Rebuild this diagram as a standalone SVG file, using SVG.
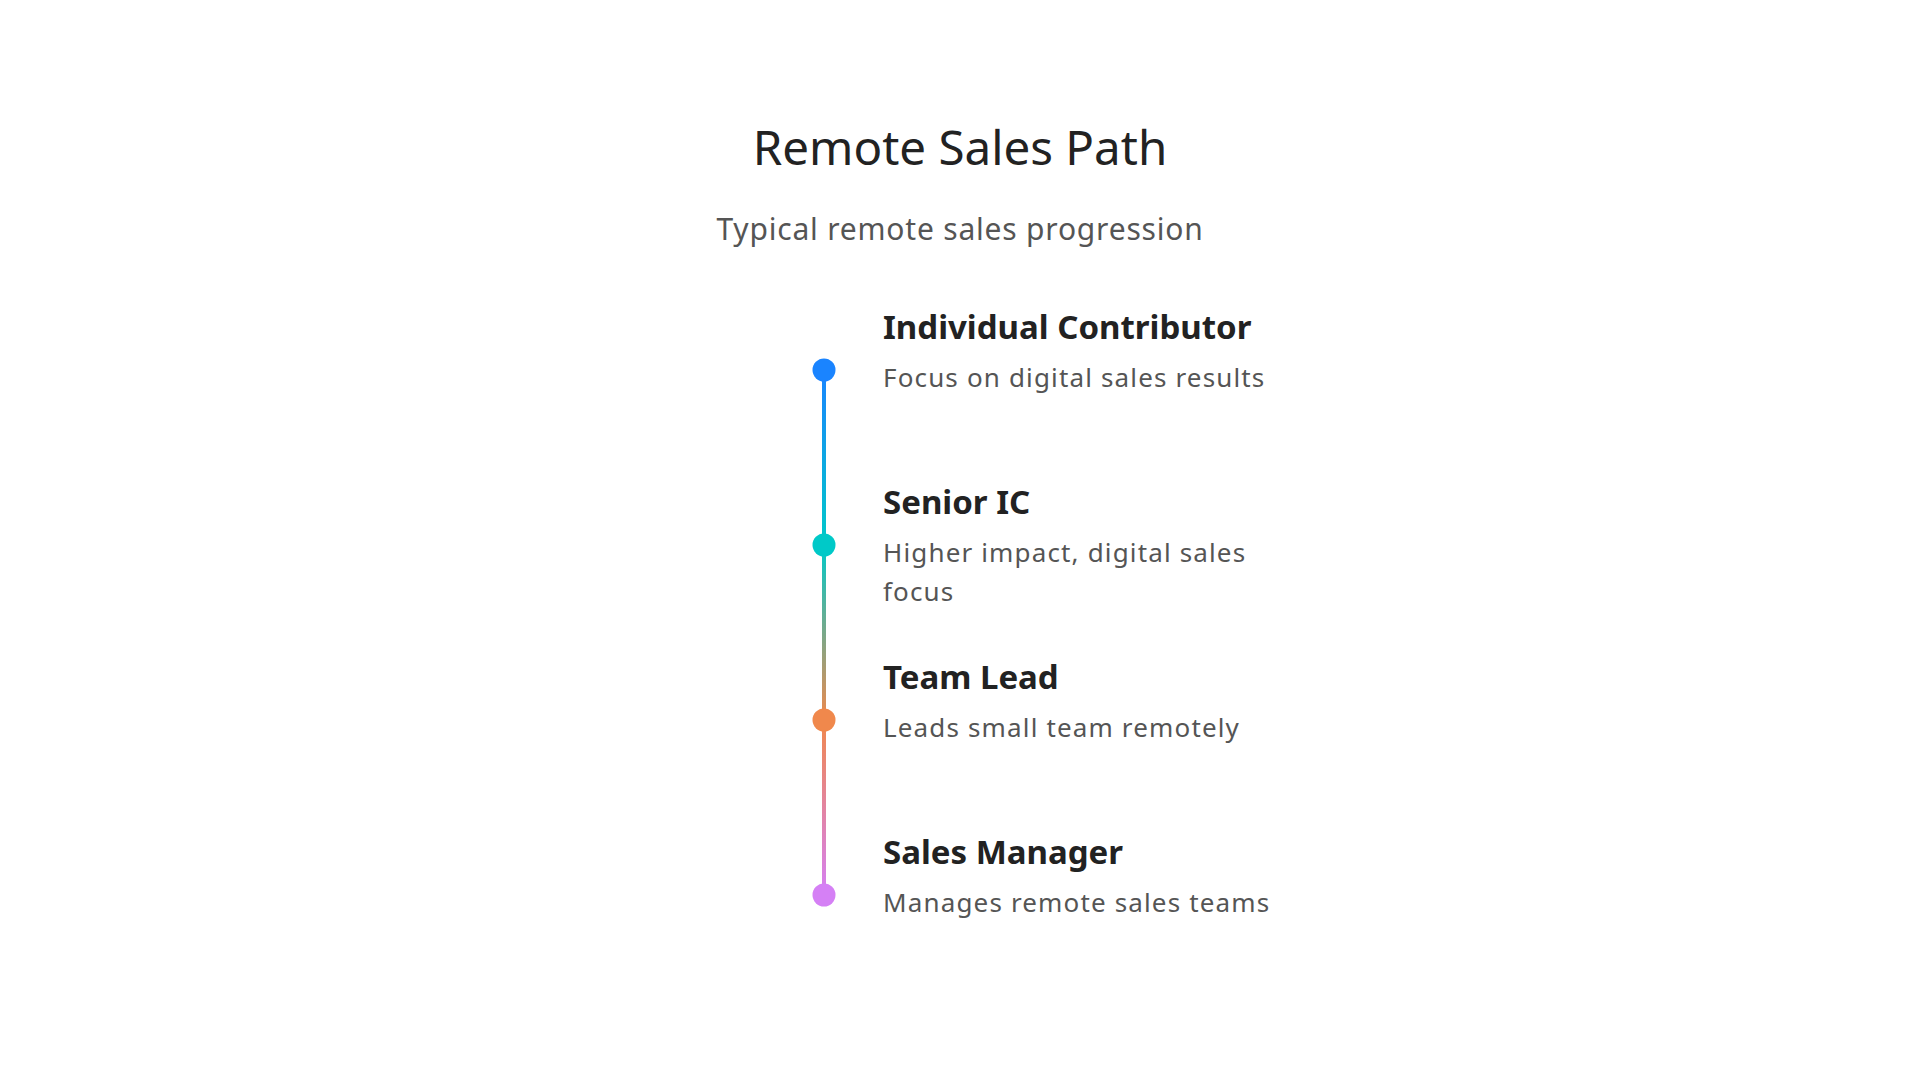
<svg xmlns="http://www.w3.org/2000/svg" width="1920" height="1080" viewBox="0 0 1920 1080">
<style>
.title{font-family:"Noto Sans","Open Sans",sans-serif;font-size:47.5px;fill:#222222}
.sub{font-family:"Noto Sans","Open Sans",sans-serif;font-size:30px;fill:#555555;letter-spacing:0.8px}
.lab{font-family:"Noto Sans","Open Sans",sans-serif;font-size:33px;font-weight:700;fill:#222222}
.desc{font-family:"Noto Sans","Open Sans",sans-serif;font-size:26px;fill:#555555;letter-spacing:1.15px}
</style>
<defs>
<linearGradient id="g" gradientUnits="userSpaceOnUse" x1="824" y1="370" x2="824" y2="895">
<stop offset="0" stop-color="#1a84ff"/>
<stop offset="0.3333" stop-color="#00c9c8"/>
<stop offset="0.6667" stop-color="#f0884c"/>
<stop offset="1" stop-color="#d580f5"/>
</linearGradient>
</defs>
<rect width="1920" height="1080" fill="#ffffff"/>
<text class="title" x="960" y="165" text-anchor="middle">Remote Sales Path</text>
<text class="sub" x="960" y="240" text-anchor="middle">Typical remote sales progression</text>
<g id="connectors">
<line x1="824" y1="370" x2="824" y2="895" stroke="url(#g)" stroke-width="4"/>
</g>
<g id="node-individual-contributor">
<circle cx="824" cy="370" r="11.5" fill="#1a84ff"/>
<text class="lab" x="883" y="339">Individual Contributor</text>
<text class="desc" x="883" y="387">Focus on digital sales results</text>
</g>
<g id="node-senior-ic">
<circle cx="824" cy="545" r="11.5" fill="#00c9c8"/>
<text class="lab" x="883" y="514">Senior IC</text>
<text class="desc" x="883" y="562">Higher impact, digital sales</text>
<text class="desc" x="883" y="601">focus</text>
</g>
<g id="node-team-lead">
<circle cx="824" cy="720" r="11.5" fill="#f0884c"/>
<text class="lab" x="883" y="689">Team Lead</text>
<text class="desc" x="883" y="737">Leads small team remotely</text>
</g>
<g id="node-sales-manager">
<circle cx="824" cy="895" r="11.5" fill="#d580f5"/>
<text class="lab" x="883" y="864">Sales Manager</text>
<text class="desc" x="883" y="912">Manages remote sales teams</text>
</g>
</svg>
